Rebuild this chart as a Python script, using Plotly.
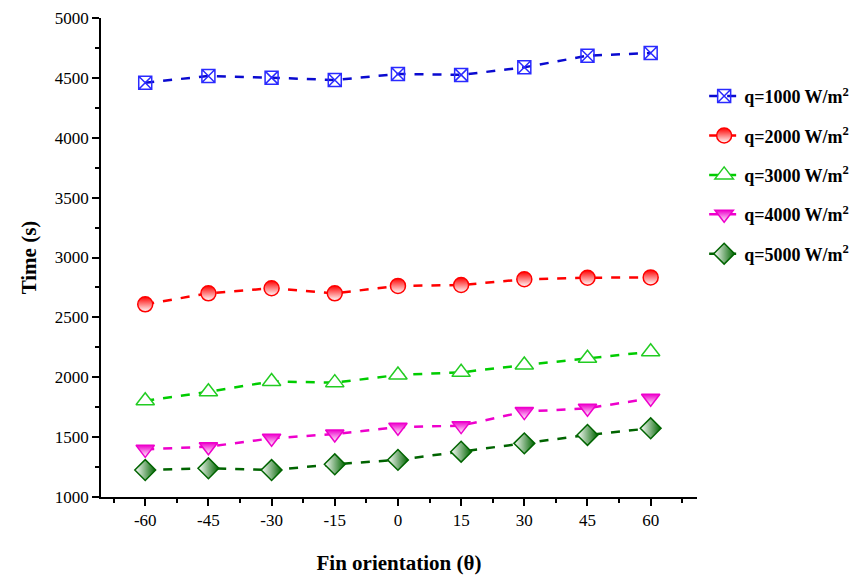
import plotly.graph_objects as go

angles = [-60, -45, -30, -15, 0, 15, 30, 45, 60]
q1000 = [4460, 4516, 4502, 4482, 4533, 4525, 4588, 4685, 4708]
q2000 = [2609, 2701, 2743, 2701, 2763, 2770, 2818, 2831, 2834]
q3000 = [1804, 1879, 1965, 1955, 2019, 2041, 2102, 2158, 2213]
q4000 = [1398, 1420, 1490, 1526, 1583, 1596, 1713, 1741, 1824]
q5000 = [1225, 1240, 1225, 1273, 1310, 1378, 1448, 1518, 1574]

names = ["q=1000 W/m<sup>2</sup>", "q=2000 W/m<sup>2</sup>", "q=3000 W/m<sup>2</sup>",
         "q=4000 W/m<sup>2</sup>", "q=5000 W/m<sup>2</sup>"]

SERIF = "Liberation Serif"

fig = go.Figure()

def add(y, name, lcolor, mcolor, symbol, size, fill, grad=None, gcolor=None, i=0):
    marker = dict(symbol=symbol, size=size, color=fill,
                  line=dict(color=mcolor, width=1.5))
    if grad:
        marker["gradient"] = dict(type=grad, color=gcolor)
    fig.add_trace(go.Scatter(
        x=angles, y=y, name=name, mode="lines+markers",
        line=dict(color=lcolor, width=2.5, dash="dash"),
        marker=marker, legendgroup="g%d" % i))

add(q1000, names[0], "#0a0ad0", "#2a2aff", "square-x-open", 13, "#2a2aff", i=0)
add(q2000, names[1], "#ff0000", "#ff0000", "circle", 15, "#ff0000", "vertical", "#ffffff", i=1)
add(q3000, names[2], "#00cc00", "#22cc22", "triangle-up", 16, "#ffffff", i=2)
add(q4000, names[3], "#ee00cc", "#ee00cc", "triangle-down", 16, "#ee00cc", "vertical", "#ffffff", i=3)
add(q5000, names[4], "#006400", "#006400", "diamond", 16, "#ffffff", "horizontal", "#006400", i=4)

fig.update_layout(
    width=867, height=577,
    margin=dict(l=101, r=170, t=18, b=80),
    paper_bgcolor="white", plot_bgcolor="white",
    font=dict(family=SERIF, color="black", size=16),
    showlegend=True,
    legend=dict(x=1.012, y=0.875, xanchor="left", yanchor="top",
                font=dict(family=SERIF, size=18, color="black", weight="bold"),
                tracegroupgap=13, bgcolor="rgba(0,0,0,0)"),
    xaxis=dict(range=[-70.5, 71], tickmode="array", tickvals=angles,
               ticktext=[str(a) for a in angles], automargin=False,
               showline=True, linecolor="black", linewidth=1.5, mirror=False,
               ticks="outside", ticklen=7, tickwidth=1.5, tickcolor="black",
               minor=dict(dtick=7.5, tick0=-67.5, ticks="outside", ticklen=4, tickwidth=1.5, tickcolor="black"),
               showgrid=False, zeroline=False,
               tickfont=dict(family=SERIF, size=17, color="black"),
               title=dict(text="<b>Fin orientation (θ)</b>", font=dict(family=SERIF, size=21), standoff=26)),
    yaxis=dict(range=[1000, 5000], dtick=500, tick0=1000, automargin=False,
               showline=True, linecolor="black", linewidth=1.5,
               ticks="outside", ticklen=7, tickwidth=1.5, tickcolor="black",
               minor=dict(dtick=250, ticks="outside", ticklen=4, tickwidth=1.5, tickcolor="black"),
               showgrid=False, zeroline=False,
               tickfont=dict(family=SERIF, size=17, color="black"),
               title=dict(text="<b>Time (s)</b>", font=dict(family=SERIF, size=21), standoff=12)),
)

fig.write_html("out.html")
